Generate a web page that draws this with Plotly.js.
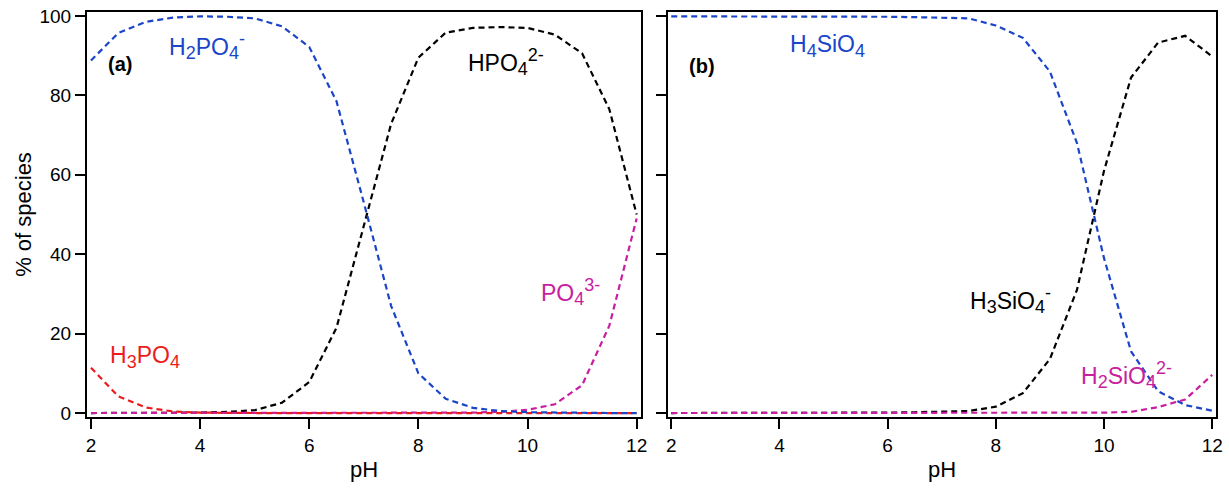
<!DOCTYPE html>
<html>
<head>
<meta charset="utf-8">
<script src="https://cdn.plot.ly/plotly-3.0.1.min.js"></script>
<style>html,body{margin:0;padding:0;background:#fff;}#chart{width:1229px;height:488px;}</style>
</head>
<body>
<div id="chart"></div>
<script>
// pH grid (0.5 steps)
const pH = [2,2.5,3,3.5,4,4.5,5,5.5,6,6.5,7,7.5,8,8.5,9,9.5,10,10.5,11,11.5,12];

// (a) phosphate species, % of total
const H3PO4   = [11.4,4.2,1.4,0.4,0.1,0,0,0,0,0,0,0,0,0,0,0,0,0,0,0,0];
const H2PO4   = [88.8,95.7,98.5,99.6,99.9,99.8,99.4,97.4,92.2,78.5,53.0,27.0,10.0,3.6,1.3,0.5,0.2,0.1,0,0,0];
const HPO4    = [0,0,0,0,0.1,0.3,0.7,2.6,7.8,21.5,47.0,72.8,89.5,95.8,97.0,97.2,97.0,95.3,90.6,76.5,50.0];
const PO4     = [0,0,0,0,0,0,0,0,0,0,0,0,0,0,0.1,0.3,0.8,2.2,7.0,22.0,49.0];

// (b) silicate species, % of total
const H4SiO4  = [99.9,99.9,99.9,99.9,99.9,99.9,99.9,99.9,99.8,99.7,99.6,99.4,97.6,94.5,86.0,68.0,39.0,15.5,5.5,2.0,0.6];
const H3SiO4  = [0,0,0,0,0,0,0,0,0.1,0.2,0.3,0.5,1.6,5.0,13.6,31.0,61.0,84.5,93.3,95.0,89.8];
const H2SiO4  = [0,0,0,0,0,0,0,0,0,0,0,0,0,0,0,0,0.1,0.3,1.5,3.4,9.6];

const xTicks = [2,4,6,8,10,12];
const yTicks = [0,20,40,60,80,100];

const BLUE = '#1b45c9', BLACK = '#000000', RED = '#ec1c1c', MAG = '#c81ea0';
const FONT = 'Liberation Sans, Arial, sans-serif';

function tr(x, y, color, xa, ya) {
  return {x: x, y: y, type: 'scatter', mode: 'lines', xaxis: xa, yaxis: ya,
    line: {color: color, width: 2.2, dash: '6px,4px'}, hoverinfo: 'skip', showlegend: false};
}

const data = [
  tr(pH, HPO4, BLACK, 'x', 'y'),
  tr(pH, PO4, MAG, 'x', 'y'),
  tr(pH, H3PO4, RED, 'x', 'y'),
  tr(pH, H2PO4, BLUE, 'x', 'y'),
  tr(pH, H3SiO4, BLACK, 'x2', 'y2'),
  tr(pH, H4SiO4, BLUE, 'x2', 'y2'),
  tr(pH, H2SiO4, MAG, 'x2', 'y2')
];

const axBase = {
  showline: true, linecolor: '#000', linewidth: 2, mirror: true,
  ticks: 'outside', ticklen: 10, tickwidth: 2, tickcolor: '#000',
  showgrid: false, zeroline: false, tickfont: {family: FONT, size: 19, color: '#000'}
};

function sb(t) { return '<sub><span style="font-size:18px">' + t + '</span></sub>'; }
function sp(t) { return '<sup><span style="font-size:18px">' + t + '</span></sup>'; }

function ann(text, x, y, color, xref, yref, bold) {
  return {text: bold ? '<b>' + text + '</b>' : text, x: x, y: y, xref: xref, yref: yref,
    showarrow: false, xanchor: 'center', yanchor: 'middle',
    font: {family: FONT, size: bold ? 20 : 23, color: color}};
}

const layout = {
  width: 1229, height: 488,
  margin: {l: 87, r: 13, t: 12, b: 71},
  paper_bgcolor: '#fff', plot_bgcolor: '#fff',
  font: {family: FONT, color: '#000'},
  xaxis: Object.assign({}, axBase, {domain: [0, 0.4907], range: [1.927, 12.08], tickvals: xTicks, anchor: 'y',
    title: {text: 'pH', font: {family: FONT, size: 22}, standoff: 7}}),
  yaxis: Object.assign({}, axBase, {range: [-1, 101], tickvals: yTicks, anchor: 'x',
    title: {text: '% of species', font: {family: FONT, size: 22}, standoff: 2}}),
  xaxis2: Object.assign({}, axBase, {domain: [0.5146, 1], range: [1.94, 12.07], tickvals: xTicks, anchor: 'y2',
    title: {text: 'pH', font: {family: FONT, size: 22}, standoff: 7}}),
  yaxis2: Object.assign({}, axBase, {range: [-1, 101], tickvals: yTicks, anchor: 'x2', showticklabels: false}),
  annotations: [
    ann('(a)', 2.53, 87.8, BLACK, 'x', 'y', true),
    ann('H' + sb('2') + 'PO' + sb('4') + sp('-'), 4.13, 92.5, BLUE, 'x', 'y'),
    ann('HPO' + sb('4') + sp('2-'), 9.61, 88.5, BLACK, 'x', 'y'),
    ann('PO' + sb('4') + sp('3-'), 10.78, 30.5, MAG, 'x', 'y'),
    ann('H' + sb('3') + 'PO' + sb('4'), 2.99, 14.0, RED, 'x', 'y'),
    ann('(b)', 2.56, 87.4, BLACK, 'x2', 'y2', true),
    ann('H' + sb('4') + 'SiO' + sb('4'), 4.89, 92.5, BLUE, 'x2', 'y2'),
    ann('H' + sb('3') + 'SiO' + sb('4') + sp('-'), 8.28, 28.5, BLACK, 'x2', 'y2'),
    ann('H' + sb('2') + 'SiO' + sb('4') + sp('2-'), 10.42, 9.5, MAG, 'x2', 'y2')
  ]
};

Plotly.newPlot('chart', data, layout, {staticPlot: true, displayModeBar: false});
</script>
</body>
</html>
